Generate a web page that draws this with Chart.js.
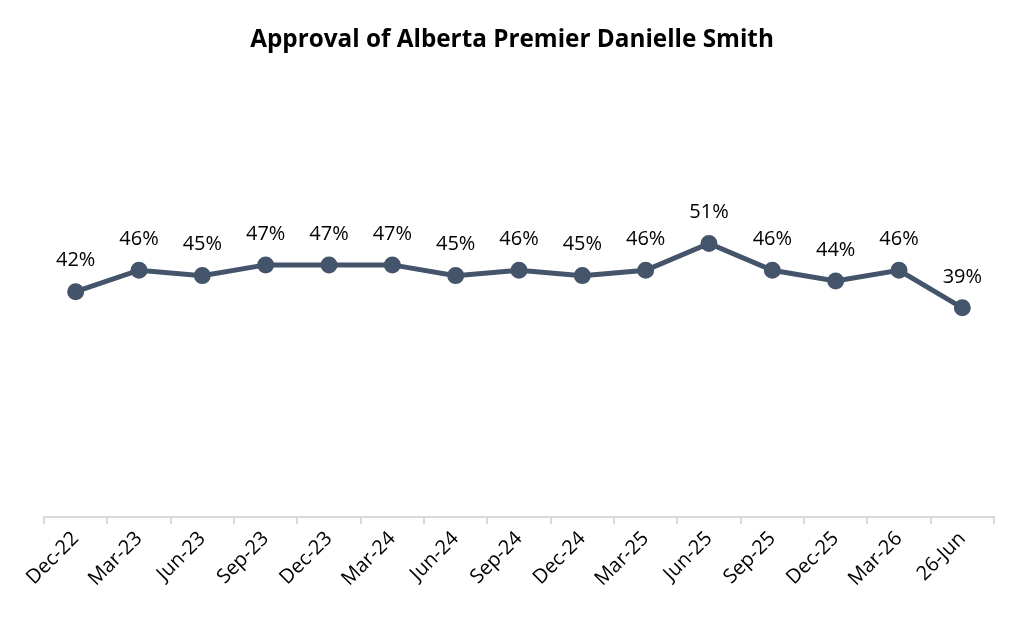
<!DOCTYPE html>
<html>
<head>
<meta charset="utf-8">
<script src="https://cdn.jsdelivr.net/npm/chart.js@4"></script>
<style>
  html, body { margin: 0; padding: 0; background: #fff; }
  #wrap { width: 1024px; height: 621px; position: relative; }
</style>
</head>
<body>
<div id="wrap"><canvas id="approvalChart"></canvas></div>
<script>
// --- Approval of Alberta Premier Danielle Smith (line) ---
const periods = ['Dec-22', 'Mar-23', 'Jun-23', 'Sep-23', 'Dec-23', 'Mar-24', 'Jun-24', 'Sep-24',
                 'Dec-24', 'Mar-25', 'Jun-25', 'Sep-25', 'Dec-25', 'Mar-26', '26-Jun'];
const approval = [42, 46, 45, 47, 47, 47, 45, 46, 45, 46, 51, 46, 44, 46, 39];

const lineColor = '#44546a';
const axisColor = '#d9d9d9';
const fontFamily = '"Open Sans", "Noto Sans", sans-serif';

// labels above each point
const pointLabels = {
    id: 'pointLabels',
    afterDatasetsDraw(chart) {
        const ctx = chart.ctx;
        const meta = chart.getDatasetMeta(0);
        ctx.save();
        ctx.font = '20px ' + fontFamily;
        ctx.fillStyle = '#000';
        ctx.textAlign = 'center';
        ctx.textBaseline = 'middle';
        meta.data.forEach((pt, i) => {
            ctx.fillText(approval[i] + '%', pt.x, pt.y - 31);
        });
        ctx.restore();
    }
};

const ctx = document.getElementById('approvalChart').getContext('2d');

new Chart(ctx, {
    type: 'line',
    data: {
        labels: periods,
        datasets: [{
            label: 'Approval',
            data: approval,
            borderColor: lineColor,
            backgroundColor: lineColor,
            borderWidth: 5,
            pointRadius: 6,
            pointHoverRadius: 6,
            tension: 0
        }]
    },
    options: {
        responsive: true,
        maintainAspectRatio: false,
        animation: false,
        layout: { padding: { left: 30, right: 30, top: 0, bottom: 0 } },
        plugins: {
            legend: { display: false },
            tooltip: { enabled: false },
            title: {
                display: true,
                text: 'Approval of Alberta Premier Danielle Smith',
                color: '#000',
                font: { family: fontFamily, size: 24.3, weight: 'bold' },
                padding: { top: 25.4, bottom: 140.6 }
            }
        },
        scales: {
            x: {
                offset: true,
                grid: { offset: true, drawOnChartArea: false, drawTicks: true, tickLength: 7, color: axisColor, lineWidth: 2 },
                border: { color: axisColor, width: 2 },
                ticks: { maxRotation: 45, minRotation: 45, color: '#000', padding: 3,
                         font: { family: fontFamily, size: 20 } },
                afterFit(scale) { scale.height = 104; }
            },
            y: {
                min: 0,
                max: 60,
                grid: { display: false },
                border: { display: false },
                ticks: { display: false },
                afterFit(scale) { scale.width = 14; }
            }
        }
    },
    plugins: [pointLabels]
});
</script>
</body>
</html>
